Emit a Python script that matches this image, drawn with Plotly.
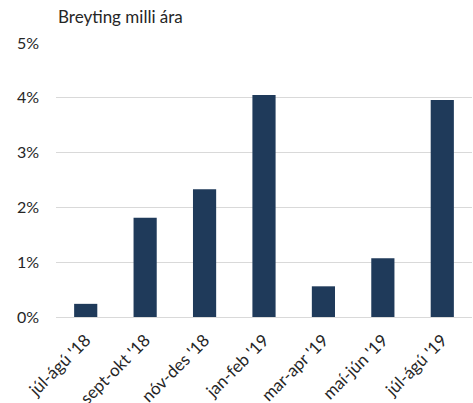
import plotly.graph_objects as go

categories = ["júl-ágú '18", "sept-okt '18", "nóv-des '18", "jan-feb '19",
              "mar-apr '19", "maí-jún '19", "júl-ágú '19"]
values = [0.0024, 0.0181, 0.0233, 0.0405, 0.0056, 0.0107, 0.0396]
y_ticks = [0, 0.01, 0.02, 0.03, 0.04, 0.05]
title_text = "Breyting milli ára"

FONT = "Lato, 'Open Sans', sans-serif"

fig = go.Figure(go.Bar(
    x=categories, y=values,
    marker=dict(color="#1f3a5a", line=dict(width=0)),
    hoverinfo="x+y",
))

fig.update_layout(
    width=473, height=403,
    margin=dict(l=56, r=1, t=43, b=86),
    paper_bgcolor="white", plot_bgcolor="white",
    bargap=0.61,
    showlegend=False,
    font=dict(family=FONT, size=16, color="#262626"),
    annotations=[dict(
        text=title_text, xref="paper", yref="paper",
        x=0, y=1, xanchor="left", yanchor="bottom", yshift=14,
        showarrow=False, font=dict(family=FONT, size=17, color="#262626"),
    )],
)
fig.update_xaxes(
    tickangle=-45, showgrid=False, showline=False, zeroline=False,
    ticks="", tickfont=dict(size=17), ticklabelstandoff=9,
    automargin=False,
)
fig.update_yaxes(
    range=[0, 0.05], tickvals=y_ticks, tickformat=".0%",
    showgrid=True, gridcolor="#d9d9d9", gridwidth=1.3,
    zeroline=True, zerolinecolor="#d9d9d9", zerolinewidth=1.3,
    showline=False, ticks="", tickfont=dict(size=16),
    ticklabelstandoff=16, automargin=False,
)

fig.write_html("out.html", config={"displayModeBar": False},
               post_script="document.body.style.margin='0';")
